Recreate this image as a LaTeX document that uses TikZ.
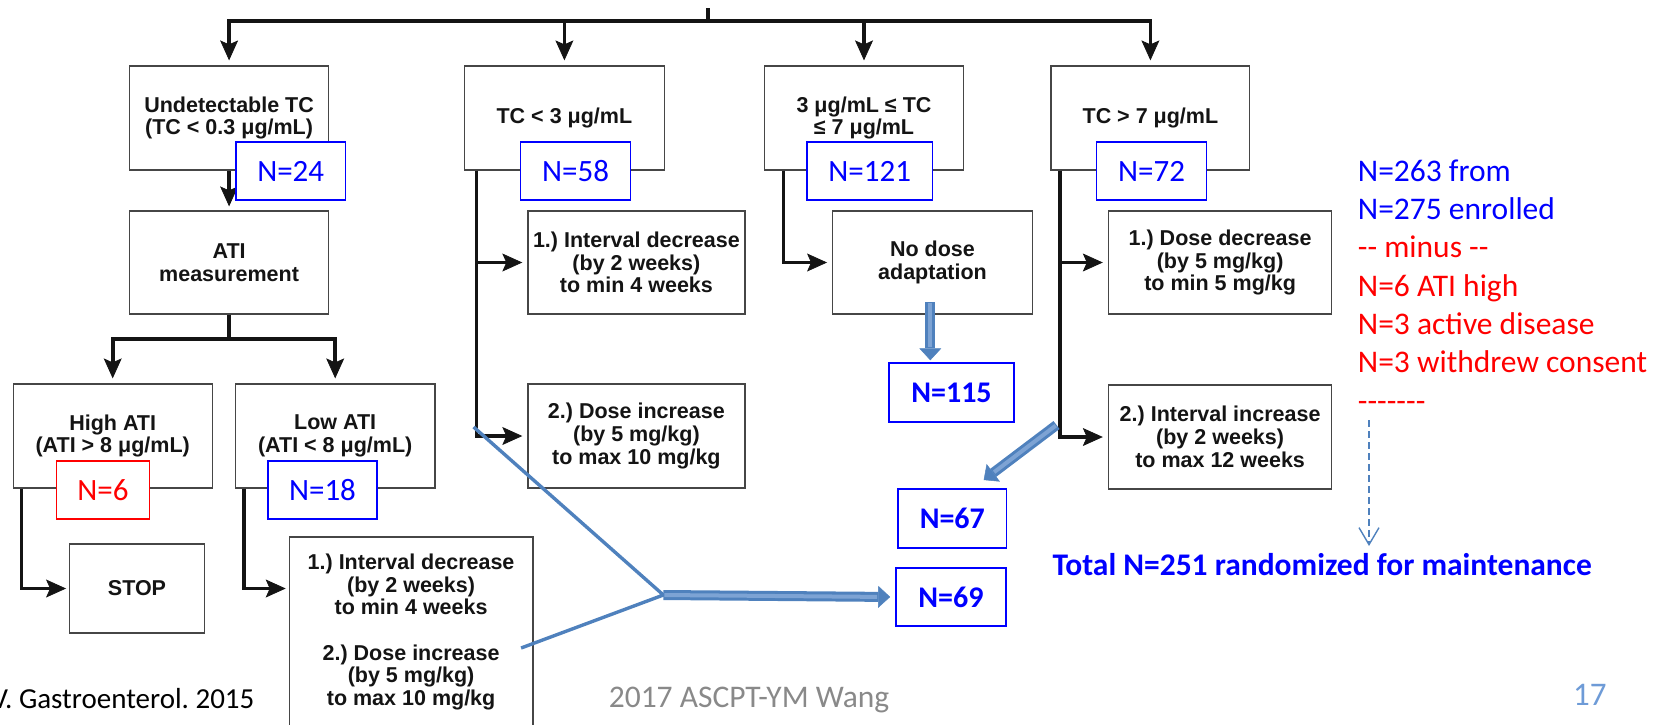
\documentclass[tikz,border=0pt]{standalone}
\usepackage{fontspec}
\setmainfont{Carlito}
\newfontfamily\flowfont{Liberation Sans}
\usetikzlibrary{arrows.meta}
\definecolor{ink}{RGB}{20,20,20}
\definecolor{boxline}{RGB}{70,70,70}
\definecolor{nblue}{RGB}{0,0,255}
\definecolor{nred}{RGB}{255,0,0}
\definecolor{steel}{RGB}{79,129,189}
\definecolor{steellight}{RGB}{125,163,212}
\definecolor{foot}{RGB}{137,137,137}
\definecolor{pagenum}{RGB}{110,155,215}
\newcommand\hy{-\kern0pt}
\frenchspacing

\begin{document}
\begin{tikzpicture}[x=1pt,y=-1pt,
  flowbox/.style={draw=boxline,line width=1.2pt,fill=white,align=center,inner sep=0pt,
    minimum height=104pt,text=ink,font=\flowfont\bfseries\fontsize{21.5}{22.7}\selectfont},
  nbox/.style={draw=nblue,line width=1.4pt,fill=white,inner sep=0pt,minimum height=58pt,
    text=nblue,font=\fontsize{31}{36}\selectfont},
  rbox/.style={nbox,draw=nred,text=nred},
  bbox/.style={nbox,minimum height=59pt,font=\bfseries\fontsize{30}{36}\selectfont},
  conn/.style={draw=ink,line width=3.6pt},
  arr/.style={conn,-{Stealth[length=20pt,width=18pt,inset=4pt,line width=0.8pt]},shorten >=5pt},
  vline/.style={draw=steel,line width=3.4pt,line join=round},
  blockarr/.style={draw=steel,line width=10pt,-{Triangle[length=12pt,width=22pt,line width=0.5pt]}},
  shine/.style={draw=steellight,line width=4pt,shorten >=13pt,shorten <=1pt},
  sidetext/.style={anchor=base west,inner sep=0pt,font=\fontsize{31.5}{38}\selectfont},
]
\useasboundingbox (0,0) rectangle (1656,724);

% flowchart boxes
\node[flowbox,minimum width=199pt] (und) at (229.1,118) {Undetectable TC\\(TC < 0.3 μg/mL)};
\node[flowbox,minimum width=199.7pt] (tc3) at (564.4,118) {TC < 3 μg/mL};
\node[flowbox,minimum width=199.7pt] (mid) at (864,118) {3 μg/mL ≤ TC\\≤ 7 μg/mL};
\node[flowbox,minimum width=198.8pt] (tc7) at (1150.4,118) {TC > 7 μg/mL};
\node[flowbox,minimum width=199pt,minimum height=103pt] (ati) at (229.1,262.5) {ATI\\measurement};
\node[flowbox,minimum width=217pt,minimum height=103pt] (int1) at (636.4,262.5) {1.) Interval decrease\\(by 2 weeks)\\to min 4 weeks};
\node[flowbox,minimum width=199.7pt,minimum height=103pt] (nodose) at (932.5,262.5) {No dose\\adaptation};
\node[flowbox,minimum width=223.4pt,minimum height=103pt] (dosedec) at (1220.1,262.5) {1.) Dose decrease\\(by 5 mg/kg)\\to min 5 mg/kg};
\node[flowbox,minimum width=199pt] (high) at (112.7,436) {High ATI\\(ATI > 8 μg/mL)};
\node[flowbox,minimum width=199.6pt] (low) at (335.2,436) {Low ATI\\(ATI < 8 μg/mL)};
\node[flowbox,minimum width=217pt] (doseinc) at (636.4,436) {2.) Dose increase\\(by 5 mg/kg)\\to max 10 mg/kg};
\node[flowbox,minimum width=223.4pt] (intinc) at (1220.1,437) {2.) Interval increase\\(by 2 weeks)\\to max 12 weeks};
\node[flowbox,minimum width=134.7pt,minimum height=89pt] (stop) at (137,588.5) {STOP};
\node[flowbox,minimum width=243.6pt,minimum height=190pt] (combo) at (411.1,632) {1.) Interval decrease\\(by 2 weeks)\\to min 4 weeks\\[22.7pt]2.) Dose increase\\(by 5 mg/kg)\\to max 10 mg/kg};

% connectors
\coordinate (stubtop) at (707.7,8);
\coordinate (bar) at (707.7,21);
\draw[conn] (stubtop) -- (bar);
\draw[arr] (bar) -| (und.north);
\draw[arr] (bar) -| (tc3.north);
\draw[arr] (bar) -| (mid.north);
\draw[arr] (bar) -| (tc7.north);
\draw[arr,shorten >=4pt] (und) -- (ati);
\coordinate (atisplit) at (229.1,339);
\draw[conn] (ati.south) -- (atisplit);
\draw[arr] (atisplit) -| (high.north);
\draw[arr] (atisplit) -| (low.north);
\draw[arr,shorten >=3pt] ([xshift=9pt]high.south west) |- (stop.west);
\draw[arr,shorten >=3pt] ([xshift=9.2pt]low.south west) |- (stop.west -| combo.west);
\draw[arr] ([xshift=12.5pt]tc3.south west) |- (int1.west);
\draw[arr] ([xshift=12.5pt]tc3.south west) |- (doseinc.west);
\draw[arr] ([xshift=19.8pt]mid.south west) |- (nodose.west);
\draw[arr] ([xshift=9.7pt]tc7.south west) |- (dosedec.west);
\draw[arr] ([xshift=9.7pt]tc7.south west) |- (intinc.west);

% N boxes
\node[nbox,minimum width=109.4pt] (n24) at (290.7,171) {N=24};
\node[nbox,minimum width=109.5pt] (n58) at (575.5,171) {N=58};
\node[nbox,minimum width=125.3pt] (n121) at (869.7,171) {N=121};
\node[nbox,minimum width=109.6pt] (n72) at (1151.5,171) {N=72};
\node[rbox,minimum width=92.5pt] (n6) at (103,490) {N=6};
\node[nbox,minimum width=109.2pt] (n18) at (322.5,490) {N=18};
\node[bbox,minimum width=125.3pt] (n115) at (951.5,392.5) {N=115};
\node[bbox,minimum width=108.7pt] (n67) at (952.3,518.5) {N=67};
\node[bbox,minimum width=110.3pt,minimum height=58pt] (n69) at (951,597) {N=69};

% blue overlay
\coordinate (va) at (473.6,427);
\coordinate (vb) at (521.1,648);
\coordinate (vj) at (663.4,595);
\draw[vline] (va) -- (vj) -- (vb);
\draw[blockarr,shorten >=5pt] (vj) -- (n69.west);
\draw[shine] (vj) -- ([xshift=-5pt]n69.west);
\coordinate (ndtop) at (930.3,302);
\draw[blockarr,shorten >=2pt] (ndtop) -- (ndtop |- n115.north);
\draw[shine,shorten >=15pt] (ndtop) -- (ndtop |- n115.north);
\coordinate (dtail) at (1056.5,425);
\coordinate (dtip) at (983.7,480);
\draw[blockarr] (dtail) -- (dtip);
\draw[shine] (dtail) -- (dtip);

% side text
\node[sidetext,text=nblue] (r1) at (1357.7,181) {N=263 from};
\node[sidetext,text=nblue] (r2) at (1357.7,219) {N=275 enrolled};
\node[sidetext,text=nred] (r3) at (1357.7,257) {\hy\hy{} minus \hy\hy};
\node[sidetext,text=nred] (r4) at (1357.7,296) {N=6 ATI high};
\node[sidetext,text=nred] (r5) at (1357.7,334) {N=3 active disease};
\node[sidetext,text=nred] (r6) at (1357.7,372) {N=3 withdrew consent};
\node[sidetext,text=nred] (r7) at (1357.7,411) {\hy\hy\hy\hy\hy\hy\hy};
\coordinate (da) at (1369,420);
\coordinate (db) at (1369,546);
\draw[steel,line width=1.4pt,dash pattern=on 7pt off 4pt,
  -{Straight Barb[length=17pt,width=20pt,line width=1.4pt]}] (da) -- (db);
\node[anchor=base west,inner sep=0pt,text=nblue,font=\bfseries\fontsize{31.5}{38}\selectfont] (total) at (1052.3,575) {Total N=251 randomized for maintenance};

% footer
\node[anchor=base,inner sep=0pt,text=foot,font=\fontsize{31.5}{38}\selectfont] (footer) at (749,707) {2017 ASCPT-YM Wang};
\node[anchor=base west,inner sep=0pt,text=pagenum,font=\fontsize{33}{38}\selectfont] (page) at (1573,705) {17};
\node[anchor=base east,inner sep=0pt,text=black,font=\fontsize{29}{34}\selectfont] (cite) at (254.6,708) {V. Gastroenterol. 2015};
\end{tikzpicture}
\end{document}
